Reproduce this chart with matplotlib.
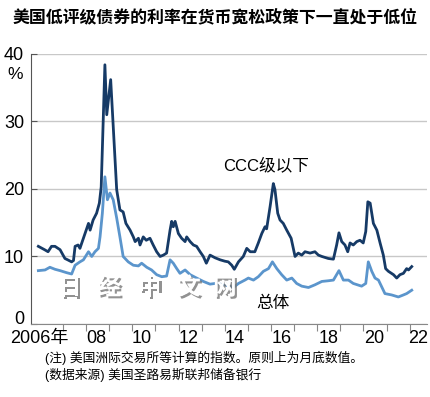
import matplotlib
matplotlib.use("Agg")
import matplotlib.pyplot as plt
import matplotlib.patheffects as pe
import matplotlib.transforms as mtransforms

plt.rcParams['font.family'] = ['Liberation Sans', 'Noto Sans CJK SC', 'DejaVu Sans']

# CCC-and-below yields (decimal year, %)
ccc_t = [2005.93, 2006.2, 2006.35, 2006.5, 2006.65, 2006.87, 2007.08, 2007.2, 2007.37, 2007.45,
         2007.52, 2007.65, 2007.73, 2007.88, 2008.0, 2008.1, 2008.17, 2008.3, 2008.45, 2008.57,
         2008.65, 2008.81, 2008.89, 2009.06, 2009.32, 2009.46, 2009.6, 2009.72, 2009.9, 2010.04,
         2010.12, 2010.26, 2010.33, 2010.47, 2010.6, 2010.76, 2010.9, 2011.05, 2011.2, 2011.34,
         2011.48, 2011.63, 2011.7, 2011.77, 2011.85, 2011.99, 2012.13, 2012.28, 2012.35, 2012.5,
         2012.64, 2012.78, 2012.93, 2013.07, 2013.2, 2013.36, 2013.58, 2013.8, 2014.0, 2014.15,
         2014.3, 2014.41, 2014.59, 2014.8, 2014.95, 2015.1, 2015.3, 2015.45, 2015.6, 2015.74,
         2015.81, 2015.96, 2016.1, 2016.17, 2016.29, 2016.39, 2016.53, 2016.68, 2016.87, 2017.04,
         2017.18, 2017.33, 2017.47, 2017.69, 2017.9, 2018.05, 2018.2, 2018.48, 2018.7, 2018.84,
         2018.94, 2019.06, 2019.2, 2019.32, 2019.42, 2019.56, 2019.71, 2019.85, 2019.99, 2020.1,
         2020.19, 2020.29, 2020.43, 2020.58, 2020.72, 2020.86, 2020.96, 2021.08, 2021.3, 2021.44,
         2021.58, 2021.73, 2021.87, 2021.95, 2022.09]
ccc_v = [11.5, 11.0, 10.7, 11.5, 11.5, 11.0, 9.7, 9.5, 9.2, 9.4,
         11.5, 11.7, 11.2, 12.7, 13.9, 14.9, 13.9, 15.4, 16.4, 17.9,
         20.3, 38.4, 31.0, 36.2, 19.9, 16.9, 16.6, 14.9, 13.9, 12.9,
         12.2, 12.7, 11.7, 12.9, 12.4, 12.7, 11.7, 10.7, 10.0, 10.2,
         10.5, 13.9, 15.2, 14.4, 15.2, 13.4, 12.7, 12.2, 12.9, 12.2,
         11.7, 11.5, 10.7, 10.0, 9.0, 10.2, 9.8, 9.5, 9.3, 9.2,
         8.7, 8.1, 9.2, 10.0, 11.2, 10.7, 10.7, 12.0, 13.4, 14.4,
         14.1, 17.4, 20.8, 19.9, 16.4, 15.4, 14.9, 13.9, 12.7, 10.0,
         10.5, 10.2, 10.7, 10.5, 10.7, 10.2, 10.0, 9.7, 9.6, 11.7,
         13.5, 12.2, 11.7, 10.7, 12.0, 11.7, 12.2, 12.4, 12.0, 13.7,
         18.1, 17.9, 14.9, 13.9, 12.0, 10.2, 8.2, 7.8, 7.3, 6.8,
         7.3, 7.5, 8.2, 8.0, 8.5]

# overall high-yield index
all_t = [2005.93, 2006.22, 2006.43, 2006.65, 2006.87, 2007.15, 2007.37, 2007.52, 2007.73, 2007.88,
         2008.1, 2008.24, 2008.38, 2008.53, 2008.6, 2008.7, 2008.81, 2008.92, 2009.03, 2009.17,
         2009.32, 2009.46, 2009.6, 2009.82, 2010.04, 2010.26, 2010.4, 2010.62, 2010.83, 2011.05,
         2011.27, 2011.48, 2011.63, 2011.77, 2011.92, 2012.06, 2012.28, 2012.5, 2012.78, 2013.07,
         2013.36, 2013.58, 2014.0, 2014.37, 2014.59, 2014.87, 2015.02, 2015.24, 2015.45, 2015.67,
         2015.89, 2016.06, 2016.25, 2016.46, 2016.68, 2016.9, 2017.11, 2017.33, 2017.62, 2017.9,
         2018.2, 2018.48, 2018.7, 2018.94, 2019.13, 2019.35, 2019.56, 2019.92, 2020.1, 2020.21,
         2020.36, 2020.5, 2020.65, 2020.79, 2020.93, 2021.22, 2021.51, 2021.73, 2021.87, 2022.09]
all_v = [7.9, 8.0, 8.4, 8.1, 7.9, 7.6, 7.4, 8.7, 9.2, 9.5,
         10.7, 10.0, 10.7, 11.2, 12.9, 16.4, 21.8, 18.4, 19.4, 18.4,
         15.7, 12.9, 10.0, 9.2, 8.7, 8.6, 9.0, 8.4, 8.0, 7.3,
         7.0, 7.1, 9.5, 9.0, 8.2, 7.5, 8.0, 7.3, 6.8, 6.3,
         5.9, 6.0, 5.8, 5.4, 6.0, 6.5, 6.8, 6.5, 7.0, 7.8,
         8.2, 9.2, 8.2, 7.3, 6.5, 6.8, 6.0, 5.6, 5.4, 5.8,
         6.3, 6.4, 6.5, 7.9, 6.5, 6.5, 6.0, 5.6, 6.0, 9.2,
         7.8, 6.8, 6.5, 5.5, 4.5, 4.3, 4.0, 4.3, 4.5, 5.0]

year_ticks = list(range(2007, 2023))
label_pos = [2005.95, 2008.42, 2010.42, 2012.42, 2014.42, 2016.45, 2018.5, 2020.48, 2022.35]
label_txt = ['2006年', '08', '10', '12', '14', '16', '18', '20', '22']

watermark_chars = ['日', '经', '中', '文', '网']
watermark_t = [2007.3, 2009.0, 2010.75, 2012.45, 2014.0]

fig = plt.figure(figsize=(4.30, 3.97), dpi=100)
ax = fig.add_axes([0.072, 0.184, 0.921, 0.680])

ax.plot(ccc_t, ccc_v, color='#163a66', lw=2.0, solid_joinstyle='round', zorder=3)
ax.plot(all_t, all_v, color='#5b95cc', lw=2.0, solid_joinstyle='round', zorder=3)

ax.set_xlim(2005.61, 2022.75)
ax.set_ylim(0, 40)
ax.set_yticks([0, 10, 20, 30, 40])
ax.grid(axis='y', color='#c8c8c8', lw=1.0)
ax.set_axisbelow(True)
for s in ['top', 'right']:
    ax.spines[s].set_visible(False)
ax.spines['left'].set_color('#555555')
ax.spines['bottom'].set_color('#888888')
ax.tick_params(axis='y', direction='in', length=4, color='#555555', labelsize=13, pad=5)
# lift the "0" label a little, as in the original
ylabels = ax.get_yticklabels()
ylabels[0].set_transform(ylabels[0].get_transform() +
                         mtransforms.ScaledTranslation(0, 6 / 100, fig.dpi_scale_trans))

ax.set_xticks(year_ticks)
ax.set_xticklabels([])
ax.tick_params(axis='x', which='major', direction='out', length=5, color='#888888')
ax.set_xticks(label_pos, minor=True)
ax.set_xticklabels(label_txt, minor=True)
ax.tick_params(axis='x', which='minor', length=0, labelsize=13, pad=4)

fig.text(0.016, 0.812, '%', fontsize=12.5, ha='left', va='center')

ax.text(2015.8, 23.5, 'CCC级以下', fontsize=12, ha='center', va='center')
ax.text(2016.1, 3.1, '总体', fontsize=12, ha='center', va='center')

# watermark
for ch, t in zip(watermark_chars, watermark_t):
    ax.text(t, 5.3, ch, fontsize=17, ha='center', va='center', color='white',
            fontweight='bold', zorder=4,
            path_effects=[pe.withSimplePatchShadow(offset=(1.5, -1.5), shadow_rgbFace='#777777',
                                                   alpha=0.8)])

fig.text(0.5, 0.957, '美国低评级债券的利率在货币宽松政策下一直处于低位', fontsize=12.2,
         fontweight='bold', ha='center', va='center')
fig.text(0.105, 0.098, '(注) 美国洲际交易所等计算的指数。原则上为月底数值。', fontsize=9.2,
         ha='left', va='center')
fig.text(0.105, 0.055, '(数据来源) 美国圣路易斯联邦储备银行', fontsize=9.2, ha='left', va='center')

fig.savefig('out.png', dpi=100)
